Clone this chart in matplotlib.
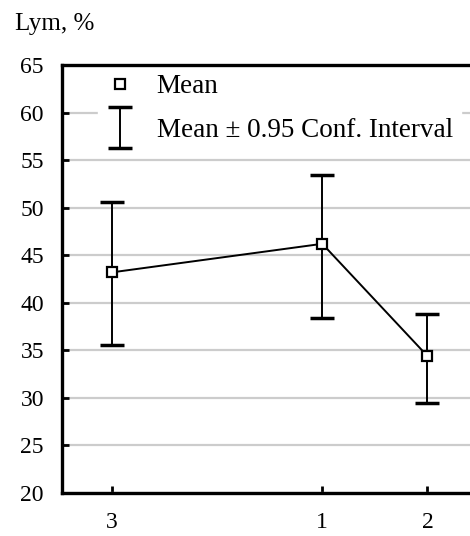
import matplotlib.pyplot as plt
from matplotlib.legend_handler import HandlerErrorbar
from matplotlib.lines import Line2D

# Groups and statistics
groups = ["3", "1", "2"]
group_pos = [0, 2, 3]
means = [43.2, 46.2, 34.4]
ci_low = [35.6, 38.4, 29.5]
ci_high = [50.6, 53.4, 38.8]

y_ticks = [20, 25, 30, 35, 40, 45, 50, 55, 60, 65]

plt.rcParams['font.family'] = ['Liberation Serif', 'DejaVu Serif']

fig = plt.figure(figsize=(4.7, 5.36), dpi=100)
ax = fig.add_axes([62 / 470, 43 / 536, 418 / 470, 428 / 536])

err_lo = [m - lo for m, lo in zip(means, ci_low)]
err_hi = [hi - m for m, hi in zip(means, ci_high)]

ax.plot(group_pos, means, color='black', lw=1.4, zorder=3)
ci = ax.errorbar(group_pos, means, yerr=[err_lo, err_hi], fmt='none',
                 ecolor='black', elinewidth=1.4, capsize=8.5, capthick=2.5,
                 zorder=3, label='Mean ± 0.95 Conf. Interval')
ax.plot(group_pos, means, ls='none', marker='s', ms=7.5, mfc='white',
        mec='black', mew=1.6, zorder=4)

ax.set_ylim(20, 65)
ax.set_xlim(-0.476, 3.5)
ax.set_yticks(y_ticks)
ax.set_xticks(group_pos)
ax.set_xticklabels(groups)
ax.tick_params(direction='in', length=5, width=2, labelsize=17)
ax.tick_params(axis='x', pad=14)
ax.tick_params(axis='y', pad=13)
ax.grid(axis='y', color='#cccccc', lw=1.6)
ax.set_axisbelow(True)
for side in ax.spines.values():
    side.set_linewidth(2.4)

fig.text(15 / 470, 1 - 24 / 536, 'Lym, %', fontsize=18, va='center', ha='left')

mean_handle = Line2D([], [], ls='none', marker='s', ms=7.5, mfc='white',
                     mec='black', mew=1.6, label='Mean')
leg = ax.legend(handles=[mean_handle, ci], loc='upper left',
                bbox_to_anchor=(0.087, 0.997), frameon=True, fontsize=19.5,
                handlelength=1.0, handletextpad=0.85, labelspacing=0.70,
                borderpad=0.3, borderaxespad=0.0,
                handler_map={type(ci): HandlerErrorbar(yerr_size=0.76)})
leg.get_frame().set_edgecolor('white')
leg.get_frame().set_facecolor('white')
leg.get_frame().set_alpha(1.0)
leg.set_zorder(2)

fig.savefig('out.png', dpi=100)
